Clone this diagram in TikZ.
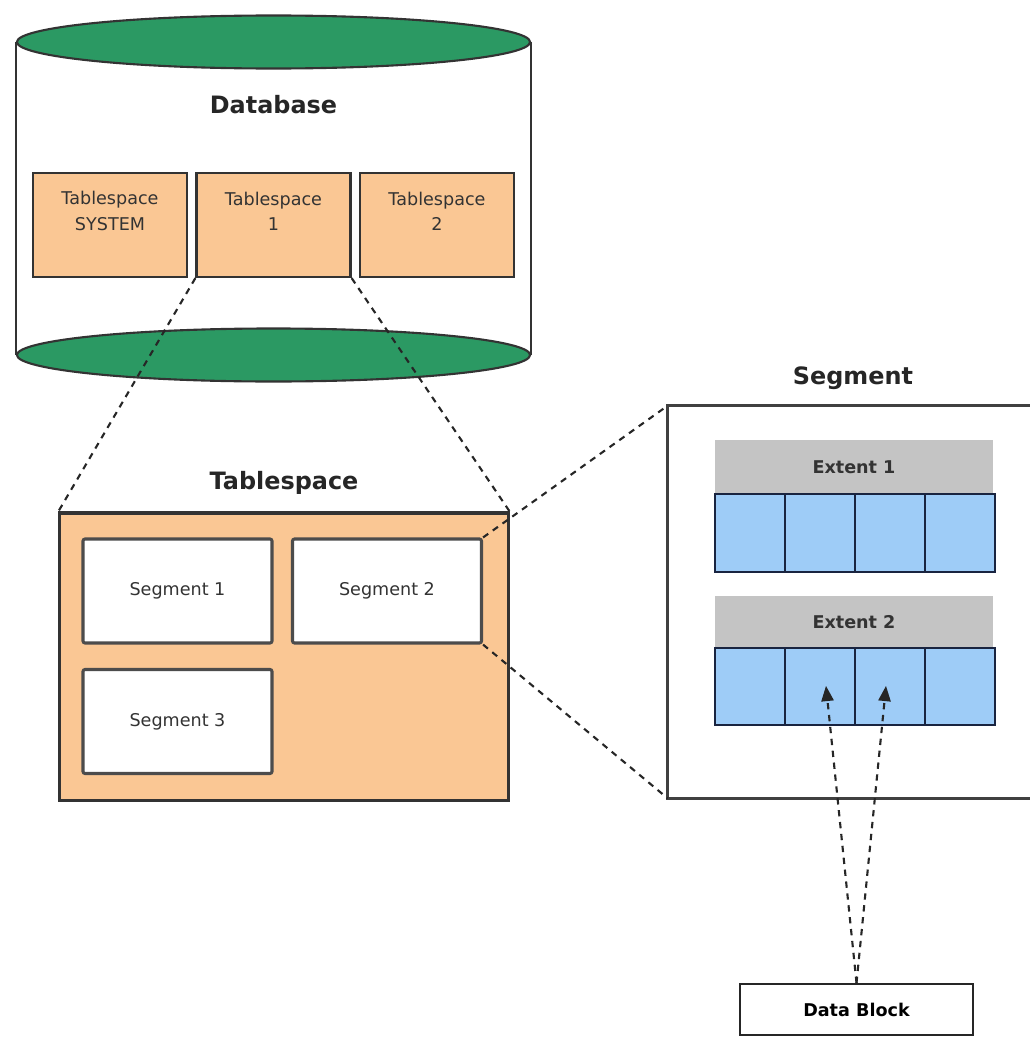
\documentclass[tikz,border=0pt]{standalone}
\usepackage{fontspec}
\setmainfont{DejaVu Sans}
\usepackage{tikz}
\usetikzlibrary{arrows,shapes}
\pgfdeclarelayer{background layer}
\pgfsetlayers{background layer,main}
\definecolor{dbgreen}{rgb}{0.17,0.6,0.39}
\definecolor{tsorange}{rgb}{0.98,0.78,0.58}
\definecolor{blkblue}{rgb}{0.62,0.8,0.97}
\definecolor{extgrey}{rgb}{0.77,0.77,0.77}
\definecolor{cellline}{rgb}{0.1,0.14,0.25}

\begin{document}
\begin{tikzpicture}[x=0.025cm,y=-0.025cm]
\tikzstyle{bigtitle}=[font=\bfseries\fontsize{17}{20}\selectfont,text=black!85]
\tikzstyle{smalltext}=[font=\fontsize{12.5}{18}\selectfont,align=center,text=black!80]
\tikzstyle{disk}=[ellipse,draw=black!80,line width=1.5pt,fill=dbgreen,inner sep=0pt,minimum width=12.825cm,minimum height=1.325cm]
\tikzstyle{tsbox}=[draw=black!80,line width=1.6pt,fill=tsorange,minimum width=3.85cm,minimum height=2.6cm]
\tikzstyle{segbox}=[draw=black!70,line width=2.2pt,fill=white,rounded corners=1.5pt,minimum width=4.725cm,minimum height=2.6cm]
\tikzstyle{exthead}=[fill=extgrey,minimum width=6.95cm,minimum height=1.35cm]
\tikzstyle{cell}=[draw=cellline,line width=1.5pt,fill=blkblue,minimum width=1.75cm,minimum height=1.95cm]
\tikzstyle{dashline}=[line width=1.5pt,dash pattern=on 4.5pt off 4pt,black!85]
\tikzstyle{arrow}=[dashline,->,>=triangle 45]
\useasboundingbox (0,0) rectangle (1030,1039);
% database cylinder
\node [disk] at (273.5,42) (dbtop) {};
\node [disk] at (273.5,355) (dbbottom) {};
\begin{pgfonlayer}{background layer}
\fill [white] (dbtop.west) rectangle (dbbottom.east);
\draw [black!80,line width=1.5pt] (dbtop.west) -- (dbbottom.west);
\draw [black!80,line width=1.5pt] (dbtop.east) -- (dbbottom.east);
\end{pgfonlayer}
\node [bigtitle] at (273.5,105) (dblabel) {Database};
\node [tsbox] at (110,225) (tssys) {};
\node [tsbox] at (273.5,225) (ts1) {};
\node [tsbox] at (437,225) (ts2) {};
\node [smalltext] at (110,211) (tssystext) {Tablespace\\SYSTEM};
\node [smalltext] at (273.5,211) (ts1text) {Tablespace\\1};
\node [smalltext] at (437,211) (ts2text) {Tablespace\\2};
% tablespace
\node [bigtitle] at (284,483) (tslabel) {Tablespace};
\node [draw=black!80,line width=2.2pt,fill=tsorange,minimum width=11.2cm,minimum height=7.175cm] at (284,656.5) (tsbig) {};
\node [segbox,smalltext] at (177.5,591) (seg1) {Segment 1};
\node [segbox,smalltext] at (387,591) (seg2) {Segment 2};
\node [segbox,smalltext] at (177.5,721.5) (seg3) {Segment 3};
% segment
\node [bigtitle] at (853,378) (seglabel) {Segment};
\node [minimum width=9.05cm,minimum height=9.8cm] at (849,602) (segbig) {};
\draw [black!75,line width=2.2pt] (segbig.north east) -- (segbig.north west) -- (segbig.south west) -- (segbig.south east);
\node [exthead,smalltext,font=\bfseries\fontsize{12.5}{18}\selectfont] at (854,467) (ext1) {Extent 1};
\node [exthead,smalltext,font=\bfseries\fontsize{12.5}{18}\selectfont,minimum height=1.3cm] at (854,622) (ext2) {Extent 2};
\foreach \i in {1,...,4} {
  \node [cell] at (680+70*\i,533) (ea\i) {};
  \node [cell,minimum height=1.925cm] at (680+70*\i,686.5) (eb\i) {};
}
% data block
\node [draw=black!85,line width=1.6pt,fill=white,minimum width=5.825cm,minimum height=1.275cm,font=\bfseries\fontsize{12.5}{18}\selectfont] at (856.5,1009.5) (datablock) {Data Block};
\coordinate (tipa) at (826,686);
\coordinate (tipb) at (886,686);
% zoom lines
\draw [dashline] (ts1.south west) -- (tsbig.north west);
\draw [dashline] (ts1.south east) -- (tsbig.north east);
\draw [dashline] (seg2.north east) -- (segbig.north west);
\draw [dashline] (seg2.south east) -- (segbig.south west);
\draw [arrow] (datablock.north) -- (tipa);
\draw [arrow] (datablock.north) -- (tipb);
\end{tikzpicture}
\end{document}
